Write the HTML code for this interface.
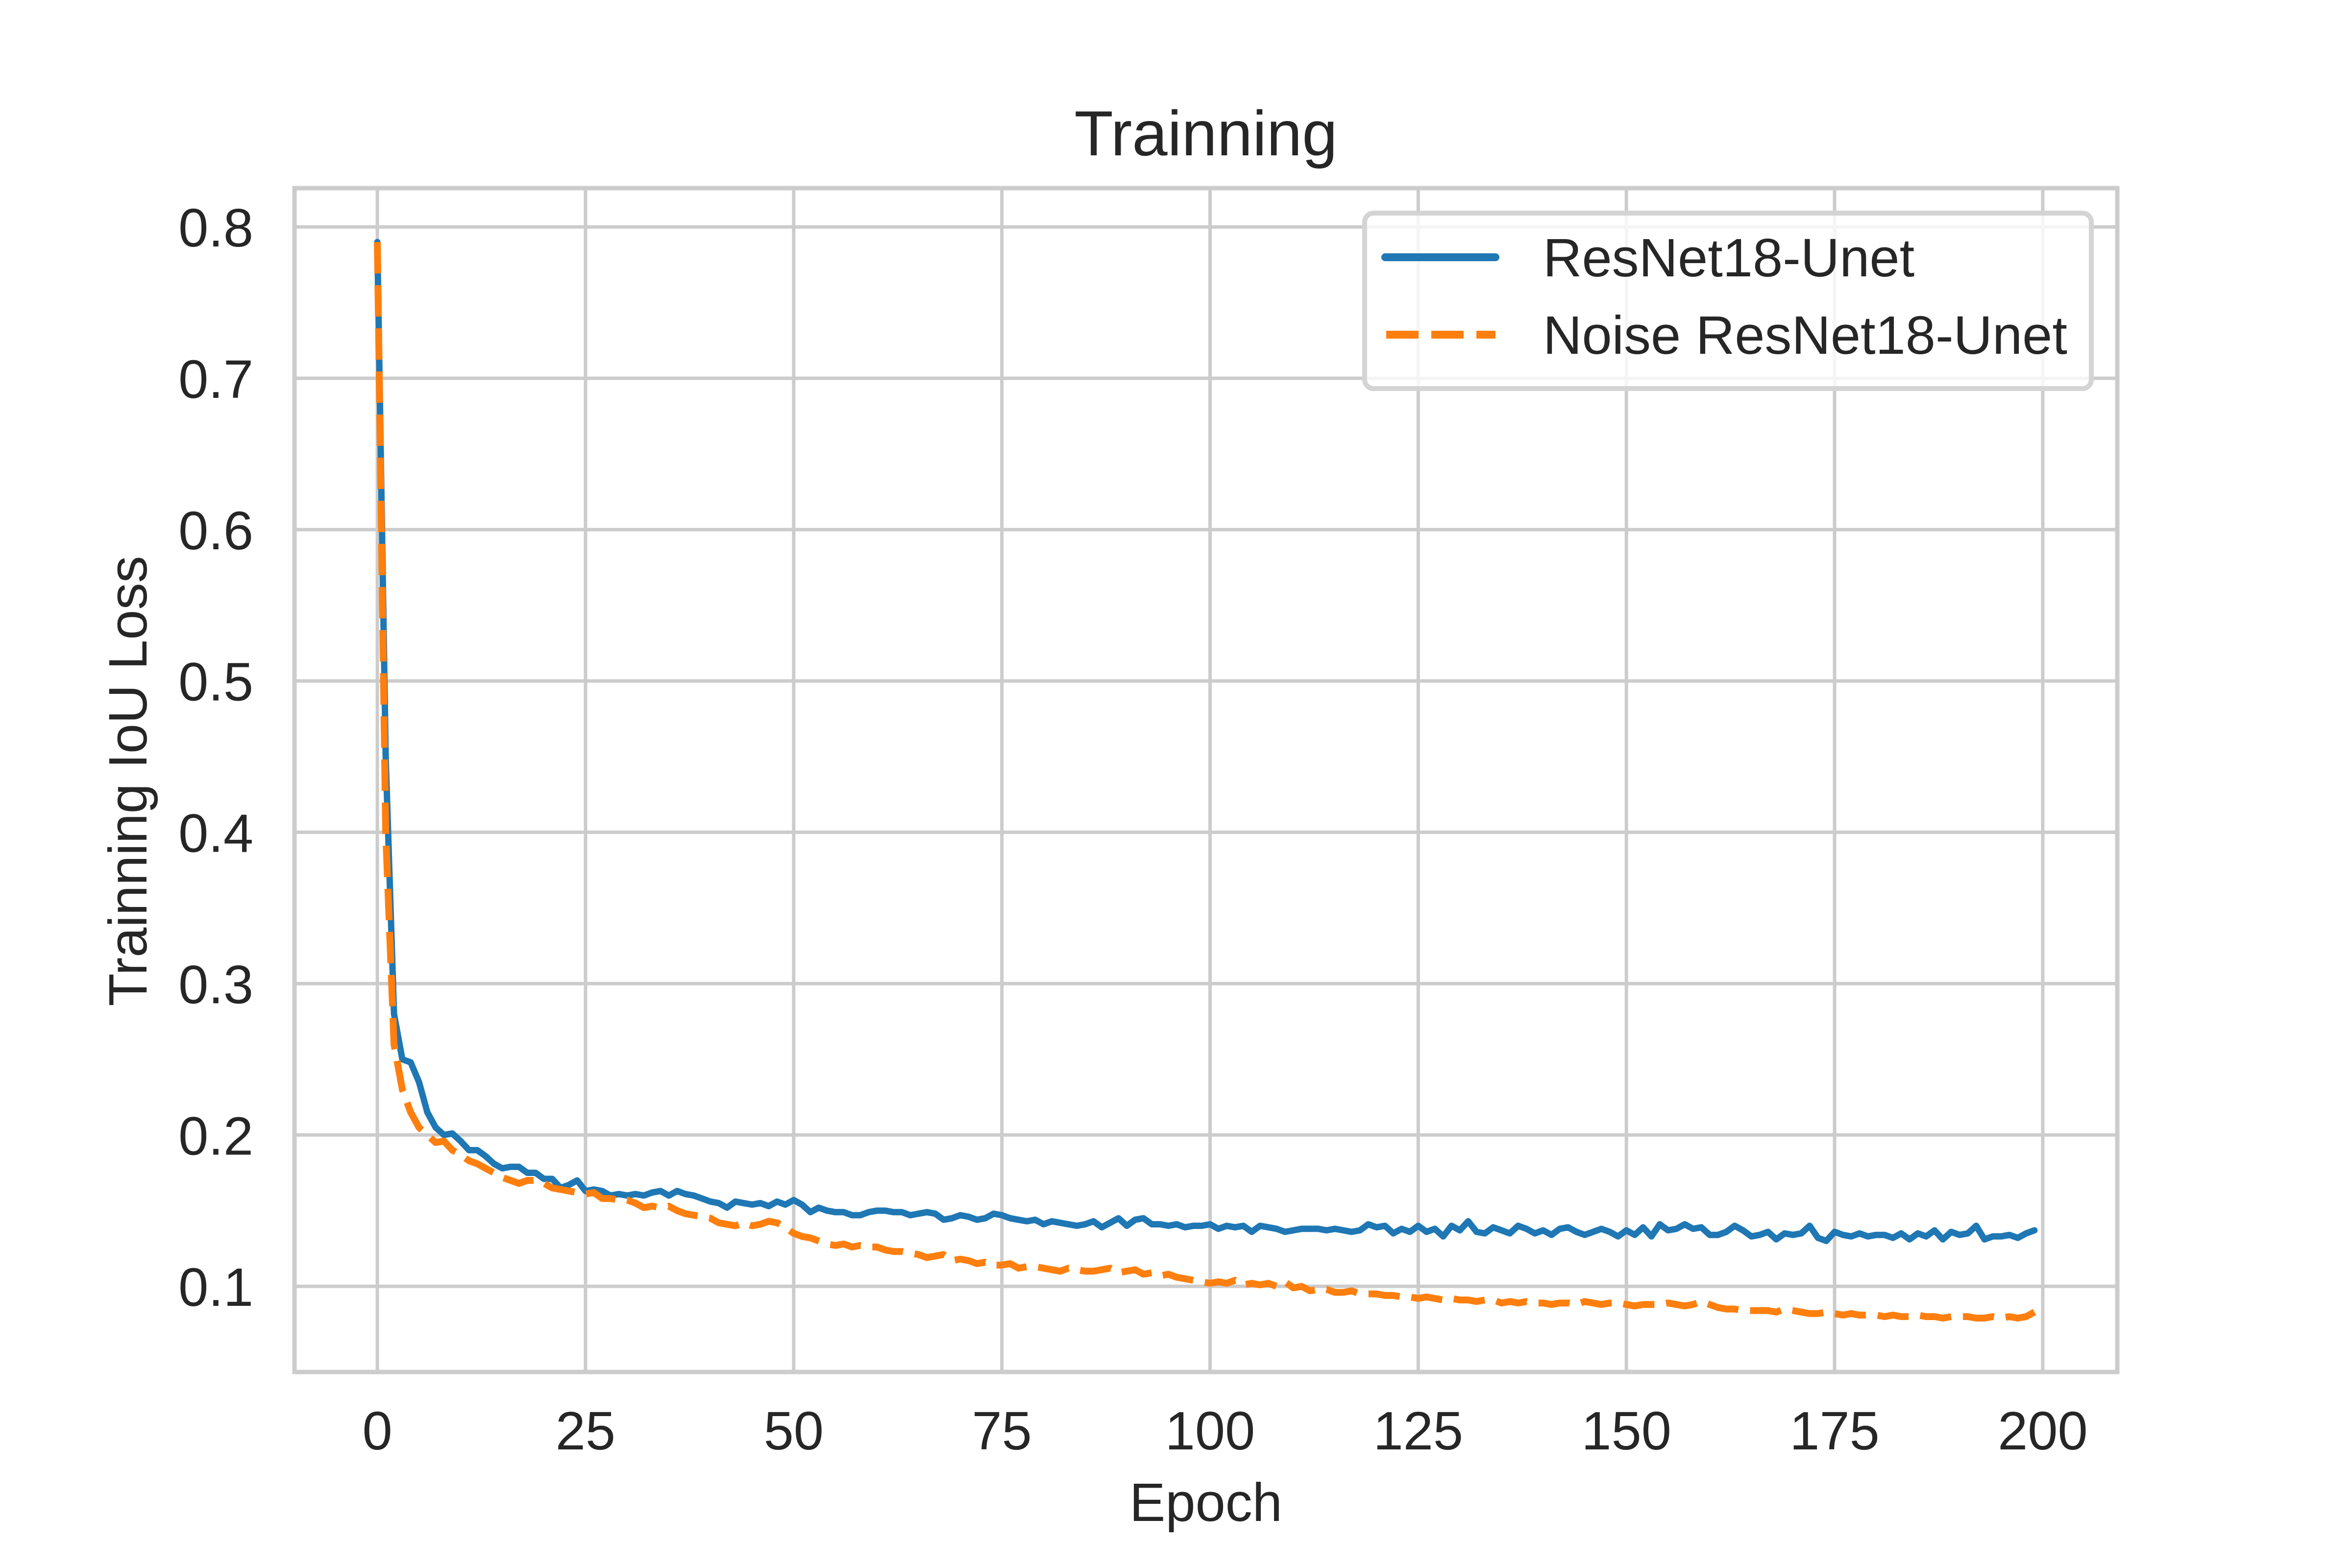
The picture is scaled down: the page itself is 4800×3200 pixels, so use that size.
<!DOCTYPE html>
<html><head><meta charset="utf-8"><style>
html,body{margin:0;padding:0;background:#fff;}
svg{display:block;font-family:"Liberation Sans",Arial,sans-serif;}
</style></head><body>
<svg id="chart" width="4800" height="3200" viewBox="0 0 4800 3200" xmlns="http://www.w3.org/2000/svg">
<rect x="0" y="0" width="4800" height="3200" fill="#fff"/>
<g id="grid"></g>
<g id="series"></g>
<g id="spines"></g>
<g id="ticks" fill="#262626" font-size="110"></g>
<text x="2461" y="317" font-size="130" fill="#262626" text-anchor="middle">Trainning</text>
<text x="2461" y="3104" font-size="110" fill="#262626" text-anchor="middle">Epoch</text>
<text x="0" y="0" font-size="110" fill="#262626" text-anchor="middle" transform="translate(299,1594) rotate(-90)">Trainning IoU Loss</text>
<g>
<rect x="2785" y="435" width="1483" height="358" rx="18" fill="#fff" fill-opacity="0.8" stroke="#d4d4d4" stroke-width="10"/>
<line x1="2827" y1="525" x2="3052" y2="525" stroke="#1f77b4" stroke-width="16" stroke-linecap="round"/>
<text x="3149" y="564" font-size="110" fill="#262626">ResNet18-Unet</text>
<line x1="2829" y1="683" x2="3052" y2="683" stroke="#ff7f0e" stroke-width="16" stroke-dasharray="66 26"/>
<text x="3149" y="722" font-size="110" fill="#262626">Noise ResNet18-Unet</text>
</g>
</svg>
<script>
const xTicks = [0,25,50,75,100,125,150,175,200];
const yTicks = [0.1,0.2,0.3,0.4,0.5,0.6,0.7,0.8];
const yTickLabels = ["0.1","0.2","0.3","0.4","0.5","0.6","0.7","0.8"];
const resnetLoss = [
.79,.45,.28,.25,.248,.235,.215,.205,.2,.201,
.196,.19,.19,.186,.181,.178,.179,.179,.175,.175,
.171,.171,.165,.167,.17,.163,.164,.163,.16,.161,
.16,.161,.16,.162,.163,.16,.163,.161,.16,.158,
.156,.155,.152,.156,.155,.154,.155,.153,.156,.154,
.157,.154,.149,.152,.15,.149,.149,.147,.147,.149,
.15,.15,.149,.149,.147,.148,.149,.148,.144,.145,
.147,.146,.144,.145,.148,.147,.145,.144,.143,.144,
.141,.143,.142,.141,.14,.141,.143,.139,.142,.145,
.14,.144,.145,.141,.141,.14,.141,.139,.14,.14,
.141,.138,.14,.139,.14,.136,.14,.139,.138,.136,
.137,.138,.138,.138,.137,.138,.137,.136,.137,.141,
.139,.14,.135,.138,.136,.14,.136,.138,.133,.14,
.137,.143,.136,.135,.139,.137,.135,.14,.138,.135,
.137,.134,.138,.139,.136,.134,.136,.138,.136,.133,
.137,.134,.139,.133,.141,.137,.138,.141,.138,.139,
.134,.134,.136,.14,.137,.133,.134,.136,.131,.135,
.134,.135,.14,.132,.13,.136,.134,.133,.135,.133,
.134,.134,.132,.135,.131,.135,.133,.137,.131,.136,
.134,.135,.14,.131,.133,.133,.134,.132,.135,.137];
const noiseLoss = [
.79,.4,.26,.23,.215,.205,.2,.195,.196,.19,
.187,.183,.181,.178,.175,.172,.17,.168,.17,.17,
.168,.165,.164,.163,.162,.161,.162,.158,.158,.157,
.157,.155,.152,.153,.152,.153,.15,.148,.147,.146,
.145,.142,.141,.14,.142,.14,.141,.143,.142,.139,
.135,.133,.132,.13,.128,.127,.128,.126,.127,.126,
.126,.124,.123,.123,.122,.121,.119,.12,.121,.117,
.118,.117,.115,.116,.114,.114,.115,.112,.113,.113,
.112,.111,.11,.112,.111,.11,.11,.111,.112,.109,
.11,.111,.108,.109,.107,.108,.106,.105,.104,.103,
.102,.103,.102,.104,.101,.102,.101,.102,.1,.103,
.099,.1,.097,.098,.098,.096,.096,.097,.095,.095,
.095,.094,.094,.093,.093,.092,.093,.092,.091,.092,
.091,.091,.09,.091,.091,.089,.09,.089,.09,.089,
.089,.088,.089,.089,.088,.09,.089,.088,.089,.089,
.088,.087,.088,.088,.088,.089,.088,.087,.088,.09,
.088,.086,.085,.085,.084,.084,.084,.084,.083,.085,
.084,.083,.082,.082,.083,.082,.081,.082,.081,.081,
.081,.08,.081,.08,.08,.081,.08,.08,.079,.08,
.08,.08,.079,.079,.08,.079,.08,.079,.08,.083];

const NS="http://www.w3.org/2000/svg";
const L=601,R=4321,T=384,B=2800;
const xMin=-9.95,xMax=208.95,yMin=0.0434,yMax=0.8256;
function xs(v){return L+(v-xMin)/(xMax-xMin)*(R-L);}
function ys(v){return B-(v-yMin)/(yMax-yMin)*(B-T);}
function mk(tag,attrs,parent){const e=document.createElementNS(NS,tag);for(const k in attrs)e.setAttribute(k,attrs[k]);parent.appendChild(e);return e;}
const grid=document.getElementById('grid'),ticks=document.getElementById('ticks'),series=document.getElementById('series'),spines=document.getElementById('spines');
xTicks.forEach(t=>{
  const g=mk('line',{x1:xs(t),x2:xs(t),y1:T,y2:B,stroke:'#cccccc','stroke-width':7},grid);
  
  
  const tx=mk('text',{x:xs(t),y:2958,'text-anchor':'middle'},ticks);
  tx.textContent=String(t);
  
  
});
yTicks.forEach((t,i)=>{
  const g=mk('line',{x1:L,x2:R,y1:ys(t),y2:ys(t),stroke:'#cccccc','stroke-width':7},grid);
  
  
  const tx=mk('text',{x:517,y:ys(t)+40,'text-anchor':'end'},ticks);
  tx.textContent=yTickLabels[i];
  
  
});
function pathFor(arr){return arr.map((v,i)=>(i?'L':'M')+xs(i).toFixed(1)+' '+ys(v).toFixed(1)).join(' ');}
const p1=mk('path',{d:pathFor(resnetLoss),fill:'none',stroke:'#1f77b4','stroke-width':13,'stroke-linejoin':'round','stroke-linecap':'round'},series);


const p2=mk('path',{d:pathFor(noiseLoss),fill:'none',stroke:'#ff7f0e','stroke-width':14,'stroke-dasharray':'64 24','stroke-linejoin':'round'},series);


const fr=mk('rect',{x:L,y:T,width:R-L,height:B-T,fill:'none',stroke:'#cccccc','stroke-width':9},spines);


</script>
</body></html>
